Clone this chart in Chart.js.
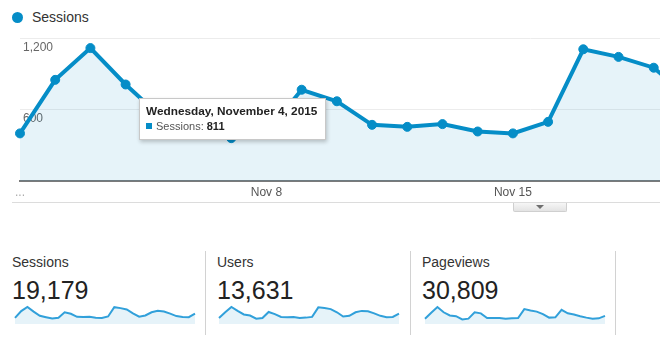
<!DOCTYPE html>
<html>
<head>
<meta charset="utf-8">
<script src="https://cdn.jsdelivr.net/npm/chart.js@4"></script>
<style>
  html, body { margin: 0; padding: 0; background: #fff; }
  body { position: relative; width: 660px; height: 345px; overflow: hidden; font-family: Arial, "Liberation Sans", sans-serif; }
  .legend-dot { position: absolute; left: 12px; top: 12px; width: 11px; height: 11px; border-radius: 50%; background: #058dc7; }
  .legend-text { position: absolute; left: 32px; top: 8px; font-size: 14px; line-height: 18px; color: #333; }
  #mainWrap { position: absolute; left: 0; top: 28px; width: 660px; height: 177px; overflow: hidden; }
  #main { display: block; }
  .rule { position: absolute; left: 12px; top: 202px; width: 648px; height: 1px; background: #dcdcdc; }
  .tab { position: absolute; left: 513px; top: 203px; width: 52px; height: 8px; border: 1px solid #cfcfcf; border-top: none;
         border-radius: 0 0 2px 2px; background: linear-gradient(#f6f6f6, #e3e3e3); }
  .tab::after { content: ""; position: absolute; left: 22px; top: 2px; border-left: 4px solid transparent; border-right: 4px solid transparent; border-top: 4px solid #6f6f6f; }
  #tip { position: absolute; background: #fff; border: 1px solid #c8c8c8; box-shadow: 1px 2px 4px rgba(0,0,0,0.22);
         padding: 5px 8px 5px 6px; white-space: nowrap; }
  #tip .title { font-size: 11.8px; font-weight: bold; color: #222; line-height: 15px; }
  #tip .row { font-size: 11px; color: #555; line-height: 15px; }
  #tip .row i { display: inline-block; width: 6px; height: 6px; background: #058dc7; margin-right: 4px; vertical-align: 1px; }
  #tip .row b { color: #222; }
  .metric { position: absolute; font-size: 14px; line-height: 18px; color: #333; top: 253px; }
  .total { position: absolute; font-size: 25px; line-height: 30px; color: #222; top: 275px; }
  .sep { position: absolute; top: 251px; width: 1px; height: 84px; background: #d2d2d2; }
  .spark { position: absolute; top: 304px; }
</style>
</head>
<body>
<div class="legend-dot"></div>
<div class="legend-text">Sessions</div>

<div id="mainWrap"><canvas id="main" width="1047" height="177"></canvas></div>
<div class="rule"></div>
<div class="tab"></div>
<div id="tip"></div>

<div class="metric" style="left:12px">Sessions</div>
<div class="total" id="totalSessions" style="left:12px"></div>
<canvas class="spark" id="sparkSessions" width="182" height="21" style="left:14px"></canvas>
<div class="sep" style="left:205px"></div>

<div class="metric" style="left:217px">Users</div>
<div class="total" id="totalUsers" style="left:217px"></div>
<canvas class="spark" id="sparkUsers" width="182" height="21" style="left:218px"></canvas>
<div class="sep" style="left:410px"></div>

<div class="metric" style="left:422px">Pageviews</div>
<div class="total" id="totalPageviews" style="left:422px"></div>
<canvas class="spark" id="sparkPageviews" width="182" height="21" style="left:424px"></canvas>
<div class="sep" style="left:615px"></div>

<script>
const days = [
  '2015-11-01', '2015-11-02', '2015-11-03', '2015-11-04', '2015-11-05', '2015-11-06',
  '2015-11-07', '2015-11-08', '2015-11-09', '2015-11-10', '2015-11-11', '2015-11-12',
  '2015-11-13', '2015-11-14', '2015-11-15', '2015-11-16', '2015-11-17', '2015-11-18',
  '2015-11-19', '2015-11-20', '2015-11-21', '2015-11-22', '2015-11-23', '2015-11-24',
  '2015-11-25', '2015-11-26', '2015-11-27', '2015-11-28', '2015-11-29', '2015-11-30'
];

const sessions = [400, 850, 1117, 811, 540, 450, 360, 410, 767, 670, 472, 455, 478, 416, 400,
                  497, 1107, 1043, 952, 700, 480, 560, 770, 864, 820, 680, 520, 460, 450, 680];
const users = [278, 541, 786, 606, 442, 393, 246, 278, 557, 459, 328, 311, 328, 278, 295,
               328, 770, 737, 688, 541, 344, 377, 541, 606, 590, 491, 377, 311, 328, 476];
const pageviews = [630, 1340, 2010, 1385, 1005, 920, 545, 630, 1385, 1260, 715, 710, 715, 630, 670,
                   715, 1760, 1595, 1465, 1175, 755, 795, 1675, 1260, 1130, 920, 755, 630, 670, 959];

// week starts labelled under the main chart; the first one is cut off to "..."
const xTickDays = ['2015-11-01', '2015-11-08', '2015-11-15', '2015-11-22', '2015-11-29'];
const yTicks = [0, 600, 1200];
const hoverDay = '2015-11-04';

const blue = '#058dc7';
const sparkBlue = '#31a0da';
const fillBlue = 'rgba(5,141,199,0.1)';
Chart.defaults.font.family = 'Arial, "Liberation Sans", sans-serif';

const toDate = d => new Date(d + 'T00:00:00');
const shortDay = d => toDate(d).toLocaleDateString('en-US', { month: 'short', day: 'numeric' });
const longDay = d => toDate(d).toLocaleDateString('en-US', { weekday: 'long', year: 'numeric', month: 'long', day: 'numeric' });
const fmt = n => n.toLocaleString('en-US');

const yMin = yTicks[0], yMax = yTicks[yTicks.length - 1], yStep = yTicks[1] - yTicks[0];

const main = new Chart(document.getElementById('main'), {
  type: 'line',
  data: {
    labels: days,
    datasets: [{
      label: 'Sessions',
      data: sessions,
      borderColor: blue,
      backgroundColor: fillBlue,
      fill: 'origin',
      borderWidth: 4,
      tension: 0,
      clip: false,
      pointRadius: 4.5,
      pointBorderWidth: 1,
      pointBackgroundColor: blue,
      pointBorderColor: blue,
      pointHoverRadius: 5,
      pointHoverBorderWidth: 2,
      pointHoverBackgroundColor: blue,
      pointHoverBorderColor: 'rgba(25,70,95,0.55)'
    }]
  },
  options: {
    responsive: false,
    animation: false,
    events: [],
    layout: { padding: { left: 14, right: 1, top: 8, bottom: 0.6 } },
    plugins: { legend: { display: false }, tooltip: { enabled: false } },
    scales: {
      x: {
        grid: { display: false, drawTicks: false },
        border: { display: true, color: '#7a7a7a', width: 2 },
        ticks: {
          autoSkip: false,
          maxRotation: 0,
          padding: 4.5,
          font: { size: 12 },
          color: ctx => ctx.index === 0 ? '#aaa' : '#555',
          callback: (v, i) => {
            if (!xTickDays.includes(days[i])) return '';
            return i === 0 ? '...' : shortDay(days[i]);
          }
        }
      },
      y: {
        type: 'linear',
        min: yMin, max: yMax,
        grid: { color: '#ececec', drawTicks: false },
        border: { display: false },
        ticks: { display: false, stepSize: yStep }
      },
      // value labels sit inside the plot, drawn over the line
      yLabels: {
        type: 'linear',
        position: 'left',
        min: yMin, max: yMax,
        z: 1,
        grid: { display: false, drawTicks: false },
        border: { display: false },
        ticks: {
          stepSize: yStep,
          mirror: true,
          padding: 3,
          labelOffset: 9,
          color: '#666',
          font: { size: 12 },
          textStrokeColor: '#fff',
          textStrokeWidth: 3,
          callback: v => v === 0 ? '' : fmt(v)
        }
      }
    }
  }
});

// hovered day: highlight the point and show the date box next to it
const hi = days.indexOf(hoverDay);
main.setActiveElements([{ datasetIndex: 0, index: hi }]);
const pt = main.getDatasetMeta(0).data[hi];
const tip = document.getElementById('tip');
tip.innerHTML = '<div class="title">' + longDay(hoverDay) + '</div>' +
  '<div class="row"><i></i>Sessions: <b>' + fmt(sessions[hi]) + '</b></div>';
tip.style.left = Math.round(pt.x + 13) + 'px';
tip.style.top = Math.round(28 + pt.y + 14) + 'px';

function sparkline(id, values) {
  return new Chart(document.getElementById(id), {
    type: 'line',
    data: {
      labels: days,
      datasets: [{
        data: values,
        borderColor: sparkBlue,
        backgroundColor: fillBlue,
        fill: 'origin',
        borderWidth: 2,
        pointRadius: 0,
        tension: 0,
        clip: false
      }]
    },
    options: {
      responsive: false,
      animation: false,
      events: [],
      layout: { padding: { left: 1, right: 1, top: 3, bottom: 1 } },
      plugins: { legend: { display: false }, tooltip: { enabled: false } },
      scales: {
        x: { display: false },
        y: { display: false, min: 0, max: Math.max(...values) }
      }
    }
  });
}

const sum = a => a.reduce((s, v) => s + v, 0);
sparkline('sparkSessions', sessions);
sparkline('sparkUsers', users);
sparkline('sparkPageviews', pageviews);
document.getElementById('totalSessions').textContent = fmt(sum(sessions));
document.getElementById('totalUsers').textContent = fmt(sum(users));
document.getElementById('totalPageviews').textContent = fmt(sum(pageviews));
</script>
</body>
</html>
